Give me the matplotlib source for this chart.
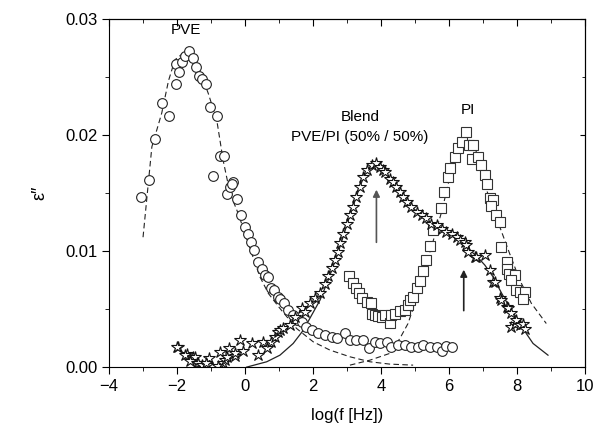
import numpy as np
import matplotlib.pyplot as plt
from matplotlib.ticker import MultipleLocator, FormatStrFormatter

plt.rcParams['font.family'] = ['Liberation Sans', 'DejaVu Sans']
plt.rcParams['font.size'] = 11

# PVE (circles)
pve_x = [-3.06, -2.83, -2.65, -2.45, -2.23, -2.03, -2.03, -1.94, -1.84, -1.76, -1.65, -1.52, -1.44,
         -1.36, -1.26, -1.15, -1.04, -0.83, -0.95, -0.74, -0.61, -0.54, -0.44, -0.34, -0.24, -0.39,
         -0.12, 0.0, 0.10, 0.17, 0.26, 0.39, 0.49, 0.59, 0.69, 0.78, 0.85, 0.98, 1.03, 1.16, 1.27,
         1.42, 1.52, 1.67, 1.81, 1.96, 2.16, 2.35, 2.55, 2.70, 2.94, 3.09, 3.28, 3.48, 3.66, 3.82,
         3.97, 4.17, 4.31, 4.51, 4.71, 4.90, 5.10, 5.24, 5.44, 5.64, 5.81, 5.93, 6.08]
pve_y = [0.01466, 0.01612, 0.01966, 0.02273, 0.02164, 0.02437, 0.02612, 0.02546, 0.02635, 0.02681,
         0.02724, 0.02666, 0.02584, 0.02509, 0.02480, 0.02437, 0.02239, 0.02164, 0.01647, 0.01819,
         0.01819, 0.01489, 0.01554, 0.01592, 0.01448, 0.01583, 0.0131, 0.0121, 0.01152, 0.0108,
         0.01009, 0.00908, 0.0085, 0.00793, 0.00779, 0.00678, 0.00664, 0.00606, 0.00584, 0.00549,
         0.00491, 0.00448, 0.00405, 0.00391, 0.00345, 0.00319, 0.0029, 0.00276, 0.00261, 0.00247,
         0.0029, 0.00233, 0.00233, 0.00233, 0.00161, 0.00218, 0.00204, 0.00218, 0.00175, 0.0019,
         0.0019, 0.00175, 0.00175, 0.0019, 0.00175, 0.00175, 0.0014, 0.00181, 0.00175]

# PI (squares)
pi_x = [3.07, 3.17, 3.26, 3.36, 3.46, 3.58, 3.71, 3.73, 3.82, 3.92, 4.02, 4.12, 4.26, 4.31, 4.41,
        4.56, 4.71, 4.80, 4.85, 4.95, 5.05, 5.15, 5.23, 5.32, 5.44, 5.54, 5.76, 5.86, 5.98, 6.05,
        6.18, 6.27, 6.39, 6.52, 6.60, 6.71, 6.67, 6.86, 6.96, 7.06, 7.13, 7.21, 7.30, 7.24, 7.40,
        7.50, 7.55, 7.70, 7.72, 7.76, 7.94, 7.84, 7.99, 8.09, 8.24, 8.17]
pi_y = [0.00784, 0.00721, 0.00684, 0.00635, 0.00592, 0.00563, 0.00549, 0.00457, 0.00448, 0.0044,
        0.00434, 0.00448, 0.00382, 0.00448, 0.00462, 0.00483, 0.00491, 0.00534, 0.00578, 0.00606,
        0.00678, 0.00744, 0.0083, 0.00922, 0.01046, 0.0118, 0.01368, 0.0151, 0.0164, 0.0172,
        0.01813, 0.01885, 0.01937, 0.02028, 0.01914, 0.01914, 0.01798, 0.01813, 0.01741, 0.01655,
        0.01578, 0.01454, 0.01445, 0.01388, 0.0131, 0.01253, 0.01037, 0.00908, 0.0085, 0.008,
        0.00793, 0.0075, 0.00664, 0.00649, 0.00649, 0.00583]

# Blend PVE/PI 50/50 (stars)
bl_x = [-1.96, -2.01, -1.72, -1.76, -1.54, -1.47, -1.62, -1.42, -1.37, -1.27, -1.13, -1.06, -1.15,
        -0.78, -0.74, -0.64, -0.59, -0.54, -0.46, -0.29, -0.29, -0.15, -0.05, 0.20, 0.39, 0.52,
        0.64, 0.78, 0.88, 0.98, 1.03, 1.13, 1.32, 1.47, 1.67, 1.76, 1.91, 2.06, 2.21, 2.35, 2.45,
        2.55, 2.65, 2.75, 2.79, 2.89, 2.99, 3.09, 3.19, 3.28, 3.38, 3.48, 3.58, 3.73, 3.87, 3.97,
        4.07, 4.12, 4.26, 4.36, 4.46, 4.56, 4.66, 4.76, 4.90, 5.05, 5.20, 5.34, 5.49, 5.64, 5.79,
        5.93, 6.08, 6.23, 6.32, 6.47, 6.52, 6.57, 6.76, 6.81, 7.06, 7.21, 7.30, 7.35, 7.50, 7.55,
        7.70, 7.74, 7.84, 7.84, 7.94, 7.99, 8.09, 8.19, 8.24]
bl_y = [0.0017, 0.0017, 0.00112, 0.00103, 0.00083, 0.00089, 0.00054, 0.00032, 0.00032, 0.00017,
        0.00017, 0.00075, 0.00037, 0.0001, 0.00132, 0.00032, 0.0006, 0.00089, 0.00161, 0.00095,
        0.00118, 0.0023, 0.00143, 0.00204, 0.00103, 0.00218, 0.00161, 0.00218, 0.00261, 0.00304,
        0.00319, 0.00333, 0.00362, 0.00434, 0.00506, 0.00477, 0.00549, 0.00600, 0.00640, 0.00720,
        0.00786, 0.00851, 0.00922, 0.00994, 0.01066, 0.01152, 0.01238, 0.0131, 0.01382, 0.01468,
        0.01554, 0.0164, 0.01698, 0.01741, 0.01756, 0.01727, 0.01698, 0.01684, 0.01626, 0.01597,
        0.01554, 0.01511, 0.01468, 0.01425, 0.01382, 0.01339, 0.0131, 0.01282, 0.01238, 0.01224,
        0.01195, 0.01166, 0.01150, 0.01123, 0.01095, 0.0108, 0.01052, 0.00994, 0.00951, 0.00951,
        0.00966, 0.00836, 0.00735, 0.00735, 0.00592, 0.00578, 0.0052, 0.00506, 0.00463, 0.00348,
        0.00376, 0.00405, 0.00362, 0.00376, 0.00326]

# fit curves
pve_fit_x = [-3.0, -2.74, -2.45, -2.25, -2.06, -1.72, -1.37, -1.08, -0.83, -0.64, -0.44, -0.2,
             0.0, 0.2, 0.44, 0.69, 1.03, 1.52, 2.01, 2.5, 3.09, 3.68, 4.26, 4.95]
pve_fit_y = [0.0112, 0.019, 0.0219, 0.0247, 0.0265, 0.0273, 0.0259, 0.0236, 0.0213, 0.0178,
             0.015, 0.01325, 0.01152, 0.0098, 0.00779, 0.00635, 0.00506, 0.00333, 0.00218,
             0.00147, 0.00089, 0.00046, 0.00026, 0.00017]

pi_fit_x = [3.09, 3.68, 4.26, 4.56, 4.8, 5.0, 5.2, 5.34, 5.49, 5.8, 6.0, 6.3, 6.52, 6.7, 6.91,
            7.1, 7.3, 7.5, 7.79, 8.09, 8.43, 8.87]
pi_fit_y = [0.00017, 0.0006, 0.00118, 0.00247, 0.00376, 0.00549, 0.00721, 0.00893, 0.01037,
            0.0135, 0.016, 0.0185, 0.0195, 0.0196, 0.0176, 0.0154, 0.0136, 0.0121, 0.0098,
            0.0075, 0.0055, 0.00376]

blend_fit_x = [0.05, 0.64, 1.03, 1.42, 1.72, 1.91, 2.21, 2.45, 2.75, 3.09, 3.38, 3.58, 3.8, 3.97,
               4.26, 4.56, 4.9, 5.2, 5.49, 5.79, 6.08, 6.32, 6.57, 6.81, 7.06, 7.3, 7.55, 7.84,
               8.09, 8.28, 8.48, 8.92]
blend_fit_y = [0.0, 0.00046, 0.00103, 0.00204, 0.00319, 0.0042, 0.00578, 0.0075, 0.00994, 0.0131,
               0.01554, 0.01698, 0.01756, 0.01735, 0.01626, 0.01511, 0.01382, 0.0131, 0.01238,
               0.01195, 0.0115, 0.01095, 0.0102, 0.0096, 0.0088, 0.0078, 0.0064, 0.0049, 0.0039,
               0.0029, 0.00204, 0.00103]

fig = plt.figure(figsize=(5.96, 4.36), dpi=100)
ax = fig.add_axes([0.183, 0.158, 0.798, 0.798])

ax.plot(pve_fit_x, pve_fit_y, '--', color='#222222', lw=0.8, dashes=(5, 3))
ax.plot(pi_fit_x, pi_fit_y, '--', color='#222222', lw=0.8, dashes=(5, 3))
ax.plot(blend_fit_x, blend_fit_y, '-', color='#222222', lw=0.9)

ax.plot(pve_x, pve_y, 'o', ms=7, mfc='white', mec='#222222', mew=0.8)
ax.plot(pi_x, pi_y, 's', ms=6.5, mfc='white', mec='#333333', mew=0.8)
ax.plot(bl_x, bl_y, '*', ms=9, mfc='white', mec='#111111', mew=0.8)

ax.annotate('', xy=(3.87, 0.01554), xytext=(3.87, 0.01052),
            arrowprops=dict(arrowstyle='-|>', color='#555555', lw=1.2, mutation_scale=10))
ax.annotate('', xy=(6.44, 0.00864), xytext=(6.44, 0.00463),
            arrowprops=dict(arrowstyle='-|>', color='#222222', lw=1.2, mutation_scale=10))

ax.text(-1.74, 0.0291, 'PVE', ha='center', va='center', fontsize=11)
ax.text(3.38, 0.02158, 'Blend', ha='center', va='center', fontsize=11)
ax.text(3.38, 0.01985, 'PVE/PI (50% / 50%)', ha='center', va='center', fontsize=11)
ax.text(6.57, 0.02216, 'PI', ha='center', va='center', fontsize=11)

ax.set_xlim(-4, 10)
ax.set_ylim(0, 0.03)
ax.xaxis.set_major_locator(MultipleLocator(2))
ax.xaxis.set_minor_locator(MultipleLocator(1))
ax.yaxis.set_major_locator(MultipleLocator(0.01))
ax.yaxis.set_minor_locator(MultipleLocator(0.005))
ax.yaxis.set_major_formatter(FormatStrFormatter('%.2f'))
ax.tick_params(which='both', direction='out', top=False, right=False, labelsize=12)
ax.tick_params(which='major', length=5)
ax.tick_params(which='minor', length=3)
secx = ax.secondary_xaxis('top')
secx.xaxis.set_major_locator(MultipleLocator(2))
secx.xaxis.set_minor_locator(MultipleLocator(1))
secx.tick_params(which='both', direction='in', labeltop=False)
secx.tick_params(which='major', length=5)
secx.tick_params(which='minor', length=3)
secy = ax.secondary_yaxis('right')
secy.yaxis.set_major_locator(MultipleLocator(0.01))
secy.yaxis.set_minor_locator(MultipleLocator(0.005))
secy.tick_params(which='both', direction='in', labelright=False)

ax.set_xlabel('log(f [Hz])', fontsize=12, labelpad=10)
ax.set_ylabel('ε″', fontsize=13, labelpad=12)

fig.savefig('out.png', dpi=100)
